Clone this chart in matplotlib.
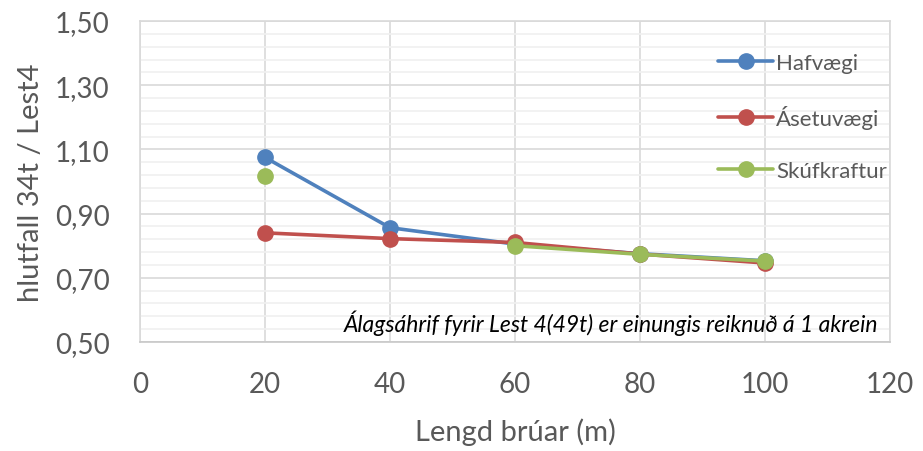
import matplotlib
matplotlib.use("Agg")
import matplotlib.pyplot as plt
import numpy as np
from matplotlib.ticker import FuncFormatter, MultipleLocator, FixedLocator

plt.rcParams['font.family'] = ['Lato', 'DejaVu Sans']

lengd = [20, 40, 60, 80, 100]
hafvaegi = [1.075, 0.856, 0.805, 0.775, 0.753]
asetuvaegi = [0.840, 0.822, 0.810, 0.774, 0.746]
skufkraftur = [1.018, np.nan, 0.800, 0.773, 0.752]

series = [
    ("Hafvægi", hafvaegi, "#4F81BD"),
    ("Ásetuvægi", asetuvaegi, "#C0504D"),
    ("Skúfkraftur", skufkraftur, "#9BBB59"),
]

txt = "#595959"

fig = plt.figure(figsize=(9.23, 4.52), dpi=100)
ax = fig.add_axes([0.1517, 0.2412, 0.8126, 0.7101])

for name, vals, col in series:
    ax.plot(lengd, vals, color=col, lw=2.6, marker="o", ms=11, label=name,
            solid_capstyle="round", zorder=3)

ax.set_xlim(0, 120)
ax.set_ylim(0.5, 1.5)
ax.xaxis.set_major_locator(MultipleLocator(20))
ax.yaxis.set_major_locator(FixedLocator(np.arange(0.5, 1.51, 0.2)))
ax.yaxis.set_minor_locator(FixedLocator(np.arange(0.5, 1.5, 0.04)))
ax.yaxis.set_major_formatter(FuncFormatter(lambda v, p: f"{v:.2f}".replace(".", ",")))

ax.grid(True, which="major", color="#D9D9D9", lw=1.2, zorder=0)
ax.grid(True, which="minor", axis="y", color="#F0F0F0", lw=1.2, zorder=0)
ax.set_axisbelow(True)
for s in ax.spines.values():
    s.set_color("#D9D9D9")
    s.set_linewidth(1.2)
ax.spines["bottom"].set_color("#C8C8C8")
ax.tick_params(which="both", length=0, labelsize=20, colors=txt)
ax.tick_params(axis="y", pad=22)
ax.tick_params(axis="x", pad=21)

ax.set_xlabel("Lengd brúar (m)", fontsize=21, color=txt)
ax.set_ylabel("hlutfall 34t / Lest4", fontsize=21, color=txt)
ax.xaxis.set_label_coords(0.5, -0.235)
ax.yaxis.set_label_coords(-0.128, 0.5)

ax.text(0.984, 0.062, "Álagsáhrif fyrir Lest 4(49t) er einungis reiknuð á 1 akrein",
        transform=ax.transAxes, ha="right", va="center", fontsize=16.5,
        style="italic", color="black")

leg = ax.legend(loc="center left", bbox_to_anchor=(0.771, 0.701), frameon=False,
                fontsize=16, handlelength=2.45, handletextpad=0.15, labelspacing=1.45,
                borderpad=0, borderaxespad=0, labelcolor=txt)

fig.savefig("out.png", dpi=100)
